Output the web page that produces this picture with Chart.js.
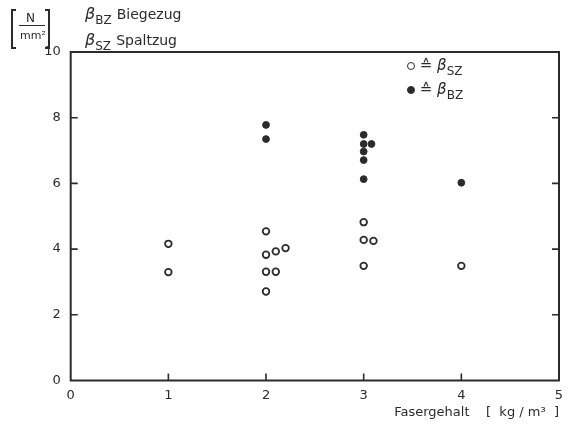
<!DOCTYPE html>
<html><head><meta charset="utf-8">
<script src="https://cdn.jsdelivr.net/npm/chart.js@4.4.0/dist/chart.umd.min.js"></script>
<style>
html,body{margin:0;padding:0;background:#fff;}
#wrap{position:relative;width:572px;height:425px;font-family:"DejaVu Sans",sans-serif;color:#2b2b2b;}
canvas{position:absolute;left:0;top:0;}
.t{position:absolute;white-space:nowrap;line-height:1;}
.sub{font-size:12px;position:relative;top:5px;}
.brk{position:absolute;border:2px solid #2b2b2b;width:3px;height:36px;}
.dot{display:inline-block;width:6px;height:6px;border-radius:50%;border:1.8px solid #2b2b2b;vertical-align:middle;}
</style></head><body>
<div id="wrap">
<canvas id="c" width="572" height="425"></canvas>
<div class="brk" style="left:11px;top:9px;border-right:none;"></div>
<div class="brk" style="left:45px;top:9px;border-left:none;"></div>
<div class="t" style="left:26px;top:12px;font-size:12px;">N</div>
<div class="t" style="left:19px;top:25px;width:26px;border-top:1.5px solid #2b2b2b;"></div>
<div class="t" style="left:20px;top:30px;font-size:11px;">mm²</div>
<div class="t" style="left:85px;top:6px;font-size:16px;"><i>β</i><span class="sub">BZ</span> <span style="font-size:14px">Biegezug</span></div>
<div class="t" style="left:85px;top:32px;font-size:16px;"><i>β</i><span class="sub">SZ</span> <span style="font-size:14px">Spaltzug</span></div>
<div class="t" style="left:407px;top:58px;font-size:15px;"><span class="dot" style="background:#fff;"></span> ≙ <i>β</i><span class="sub">SZ</span></div>
<div class="t" style="left:407px;top:82px;font-size:15px;"><span class="dot" style="background:#2b2b2b;"></span> ≙ <i>β</i><span class="sub">BZ</span></div>
</div>
<script>
const fiberSZ    = [1,    1,    2,    2,    2,    2,    2.1,  2.1,  2.2,  3,    3,    3,    3.1,  4];
const strengthSZ = [4.16, 3.30, 4.54, 3.83, 3.31, 2.71, 3.93, 3.31, 4.03, 4.82, 4.28, 3.49, 4.25, 3.49];
const fiberBZ    = [2,    2,    3,    3,    3,    3,    3,    3.08, 4];
const strengthBZ = [7.78, 7.35, 7.48, 7.20, 6.97, 6.71, 6.13, 7.20, 6.02];
const xTicks = [0, 1, 2, 3, 4, 5];
const yTicks = [0, 2, 4, 6, 8, 10];
const xTitle = "Fasergehalt    [  kg / m³  ]";

const ink = '#2b2b2b';
const toPts = (xs, ys) => xs.map((x, i) => ({x: x, y: ys[i]}));

const frame = {
  id: 'frame',
  afterDatasetsDraw(chart) {
    const {ctx, chartArea: a, scales: {x, y}} = chart;
    ctx.save();
    ctx.strokeStyle = ink;
    ctx.lineWidth = 2;
    ctx.strokeRect(a.left, a.top, a.right - a.left, a.bottom - a.top);
    ctx.lineWidth = 1.6;
    ctx.beginPath();
    xTicks.slice(1, -1).forEach(v => {
      const px = x.getPixelForValue(v);
      ctx.moveTo(px, a.bottom); ctx.lineTo(px, a.bottom - 7);
    });
    yTicks.slice(1, -1).forEach(v => {
      const py = y.getPixelForValue(v);
      ctx.moveTo(a.left, py); ctx.lineTo(a.left + 7, py);
      ctx.moveTo(a.right, py); ctx.lineTo(a.right - 7, py);
    });
    ctx.stroke();
    ctx.restore();
  }
};

new Chart(document.getElementById('c'), {
  type: 'scatter',
  data: {
    datasets: [
      {label: 'βSZ', data: toPts(fiberSZ, strengthSZ), pointStyle: 'circle',
       pointRadius: 3.3, pointBorderWidth: 1.8, borderColor: ink, backgroundColor: '#ffffff'},
      {label: 'βBZ', data: toPts(fiberBZ, strengthBZ), pointStyle: 'circle',
       pointRadius: 3.4, pointBorderWidth: 1, borderColor: ink, backgroundColor: ink}
    ]
  },
  options: {
    responsive: false,
    animation: false,
    layout: {padding: {left: 0, right: 13, top: 52, bottom: 0}},
    plugins: {legend: {display: false}, tooltip: {enabled: false}},
    scales: {
      x: {
        type: 'linear', min: 0, max: 5,
        afterBuildTicks: s => { s.ticks = xTicks.map(v => ({value: v})); },
        afterFit: s => { s.height = 44.5; },
        grid: {display: false, drawTicks: false},
        border: {display: false},
        ticks: {color: ink, padding: 7, font: {family: 'DejaVu Sans', size: 13}},
        title: {display: true, text: xTitle, align: 'end', color: ink,
                font: {family: 'DejaVu Sans', size: 13}, padding: {top: 0, bottom: 5}}
      },
      y: {
        type: 'linear', min: 0, max: 10,
        afterBuildTicks: s => { s.ticks = yTicks.map(v => ({value: v})); },
        afterFit: s => { s.width = 70.7; },
        grid: {display: false, drawTicks: false},
        border: {display: false},
        ticks: {color: ink, padding: 10, font: {family: 'DejaVu Sans', size: 13}}
      }
    }
  },
  plugins: [frame]
});
</script>
</body></html>
